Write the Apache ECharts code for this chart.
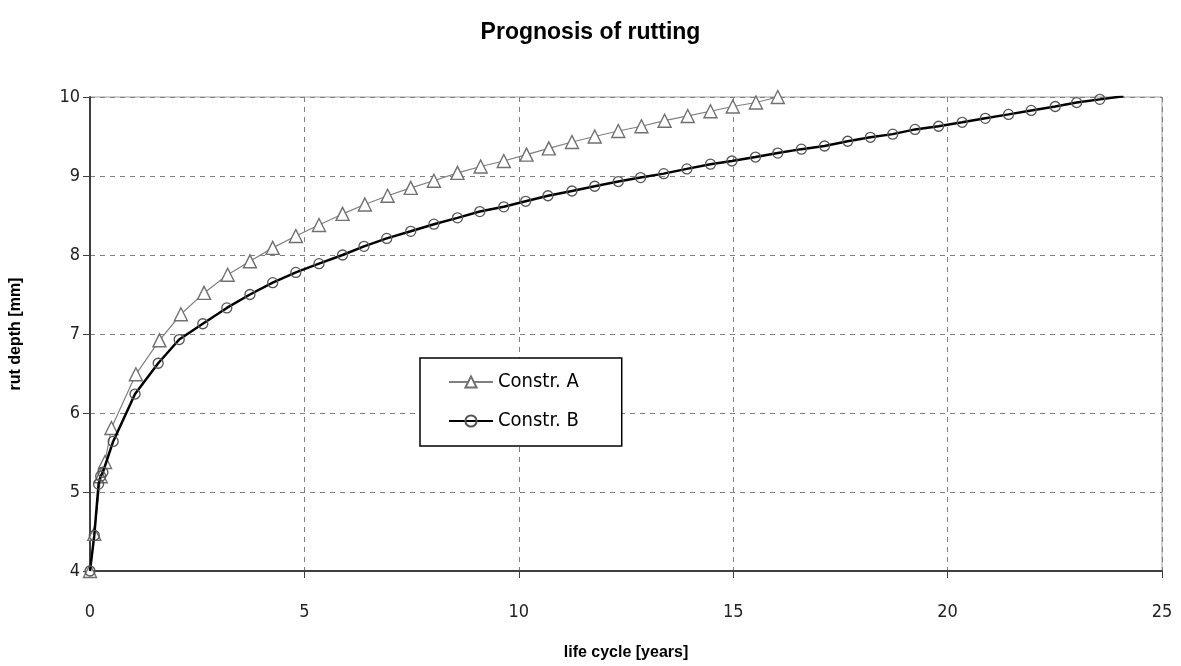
<!DOCTYPE html>
<html>
<head>
<meta charset="utf-8">
<script src="https://cdn.jsdelivr.net/npm/echarts@6/dist/echarts.min.js"></script>
<style>html,body{margin:0;padding:0;background:#fff}#c{width:1181px;height:666px}</style>
</head>
<body>
<div id="c"></div>
<script>
const titleText = 'Prognosis of rutting';
const xName = 'life cycle [years]';
const yName = 'rut depth [mm]';
const seriesNames = ['Constr. A', 'Constr. B'];

const yearsA = [0, 0.1, 0.25, 0.35, 0.5, 1.07, 1.62, 2.12, 2.66, 3.21, 3.73, 4.26, 4.8, 5.34, 5.89, 6.41, 6.94, 7.48, 8.02, 8.57, 9.11, 9.65, 10.18, 10.7, 11.24, 11.77, 12.32, 12.86, 13.4, 13.94, 14.47, 14.99, 15.53, 16.04];
const rutA   = [4.0, 4.47, 5.2, 5.38, 5.81, 6.49, 6.92, 7.25, 7.52, 7.75, 7.92, 8.09, 8.24, 8.38, 8.52, 8.64, 8.75, 8.85, 8.94, 9.04, 9.12, 9.19, 9.27, 9.35, 9.43, 9.5, 9.57, 9.63, 9.7, 9.76, 9.82, 9.88, 9.93, 10.0];

const yearsB = [0, 0.1, 0.2, 0.25, 0.3, 0.54, 1.05, 1.59, 2.08, 2.63, 3.19, 3.73, 4.26, 4.8, 5.34, 5.89, 6.39, 6.92, 7.48, 8.02, 8.57, 9.09, 9.65, 10.16, 10.68, 11.24, 11.77, 12.32, 12.84, 13.38, 13.92, 14.47, 14.97, 15.52, 16.04, 16.59, 17.13, 17.67, 18.2, 18.72, 19.24, 19.79, 20.34, 20.88, 21.42, 21.95, 22.51, 23.01, 23.55, 24.1];
const rutB   = [4.0, 4.45, 5.1, 5.2, 5.25, 5.64, 6.24, 6.63, 6.93, 7.13, 7.33, 7.5, 7.65, 7.78, 7.89, 8.0, 8.11, 8.21, 8.3, 8.39, 8.47, 8.55, 8.61, 8.68, 8.75, 8.81, 8.87, 8.93, 8.98, 9.03, 9.09, 9.15, 9.19, 9.24, 9.29, 9.34, 9.38, 9.44, 9.49, 9.53, 9.59, 9.63, 9.68, 9.73, 9.78, 9.83, 9.88, 9.93, 9.97, 10.01];

const xTicks = [0, 5, 10, 15, 20, 25];
const yTicks = [4, 5, 6, 7, 8, 9, 10];

const font = "'DejaVu Sans Condensed', 'Liberation Sans Narrow', 'Liberation Sans', Arial, sans-serif";
const boldFont = "'Liberation Sans', Arial, sans-serif";

const dataA = yearsA.map((x, i) => [x, rutA[i]]);
const dataB = yearsB.map((x, i) => i === yearsB.length - 1 ? {value: [x, rutB[i]], symbol: 'none'} : [x, rutB[i]]);

const chart = echarts.init(document.getElementById('c'), null, {renderer: 'canvas'});
chart.setOption({
  backgroundColor: '#fff',
  animation: false,
  title: {
    text: titleText, left: 'center', top: 16,
    textStyle: {fontFamily: boldFont, fontSize: 23, fontWeight: 'bold', color: '#000'}
  },
  grid: {left: 89, right: 19, top: 97, bottom: 89, show: true, borderColor: '#a0a0a0', borderWidth: 1, backgroundColor: 'transparent'},
  legend: {
    orient: 'vertical', left: 420, top: 358,
    backgroundColor: '#fff', borderColor: '#000', borderWidth: 1.5,
    padding: [14, 43, 15, 28], itemGap: 19, itemWidth: 44, itemHeight: 14,
    textStyle: {fontFamily: font, fontSize: 20, color: '#000'},
    data: seriesNames
  },
  xAxis: {
    type: 'value', min: 0, max: 25, interval: 5,
    name: xName, nameLocation: 'middle', nameGap: 74,
    nameTextStyle: {fontFamily: boldFont, fontSize: 16, fontWeight: 'bold', color: '#000'},
    axisLine: {show: true, onZero: false, lineStyle: {color: '#404040', width: 2}},
    axisTick: {show: true, inside: false, length: 7, lineStyle: {color: '#404040'}},
    axisLabel: {fontFamily: font, fontSize: 18, color: '#222', margin: 32, formatter: v => xTicks.includes(v) ? String(v) : ''},
    splitLine: {show: true, lineStyle: {color: '#808080', type: [5, 5], width: 1}}
  },
  yAxis: {
    type: 'value', min: 4, max: 10, interval: 1,
    name: yName, nameLocation: 'middle', nameGap: 66,
    nameTextStyle: {fontFamily: boldFont, fontSize: 16, fontWeight: 'bold', color: '#000'},
    axisLine: {show: true, onZero: false, lineStyle: {color: '#404040', width: 2}},
    axisTick: {show: true, inside: false, length: 7, lineStyle: {color: '#404040'}},
    axisLabel: {fontFamily: font, fontSize: 18, color: '#222', margin: 10, formatter: v => yTicks.includes(v) ? String(v) : ''},
    splitLine: {show: true, lineStyle: {color: '#808080', type: [5, 5], width: 1}}
  },
  series: [
    {
      name: seriesNames[0], type: 'line', data: dataA,
      symbol: 'triangle', symbolSize: 13, showAllSymbol: true,
      lineStyle: {color: '#808080', width: 1.2},
      itemStyle: {color: '#fff', borderColor: '#707070', borderWidth: 1.4},
      z: 3
    },
    {
      name: seriesNames[1], type: 'line', data: dataB,
      symbol: 'circle', symbolSize: 10, showAllSymbol: true,
      lineStyle: {color: '#000', width: 2.5},
      itemStyle: {color: 'rgba(255,255,255,0)', borderColor: '#555', borderWidth: 1.3},
      z: 4
    }
  ]
});
</script>
</body>
</html>
